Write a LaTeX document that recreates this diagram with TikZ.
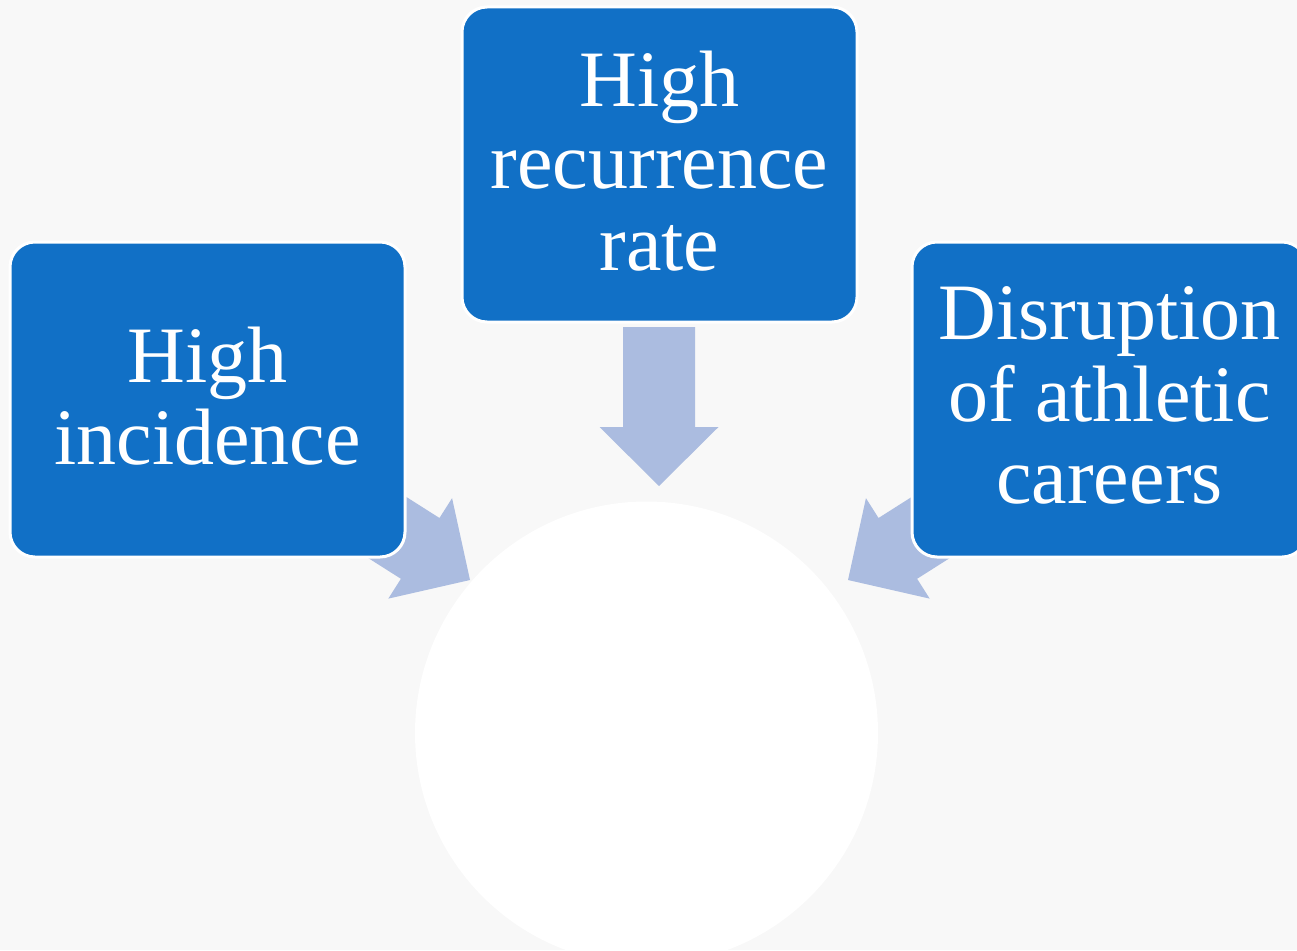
\documentclass[tikz,border=0pt]{standalone}
\usepackage{fontspec}
\setmainfont{Liberation Serif}
\definecolor{boxblue}{RGB}{17,112,198}
\definecolor{arrowblue}{RGB}{171,188,224}
\definecolor{paper}{RGB}{248,248,248}
\tikzset{
  causebox/.style={rectangle, rounded corners=25pt, fill=boxblue, draw=white,
    line width=3pt, minimum width=395pt, minimum height=315pt, inner sep=0pt,
    text=white, align=center, font=\fontsize{80}{82}\selectfont,
    % a little extra depth under the last line lifts the text block
    execute at end node={\rule[-8pt]{0pt}{8pt}}},
  blockarrow/.style={fill=arrowblue, draw=none},
  hub/.style={circle, fill=white, minimum size=463pt, inner sep=0pt}
}
\begin{document}
\begin{tikzpicture}[x=1pt,y=-1pt]
  \useasboundingbox (0,0) rectangle (1297,950);
  \clip (0,0) rectangle (1297,950);
  \fill[paper] (0,0) rectangle (1297,950);

  % central circle
  \node[hub] (core) at (646.5,733) {};

  % block arrows (tip at the local origin, pointing along +x)
  \foreach \px/\py/\ang in {659/486/-90, 470/580/-32.4, 848/580/-147.6}{
    \fill[blockarrow, shift={(\px,\py)}, rotate=\ang]
      (0,0) -- (-59,59.5) -- (-59,36) -- (-159,36) -- (-159,-36)
      -- (-59,-36) -- (-59,-59.5) -- cycle;
  }

  % cause boxes
  \node[causebox] (incidence) at (207.5,399.5) {High\\incidence};
  \node[causebox] (recurrence) at (659.5,164.5) {High\\recurrence\\rate};
  \node[causebox] (careers) at (1109.5,399.5) {Disruption\\of athletic\\careers};
\end{tikzpicture}
\end{document}
